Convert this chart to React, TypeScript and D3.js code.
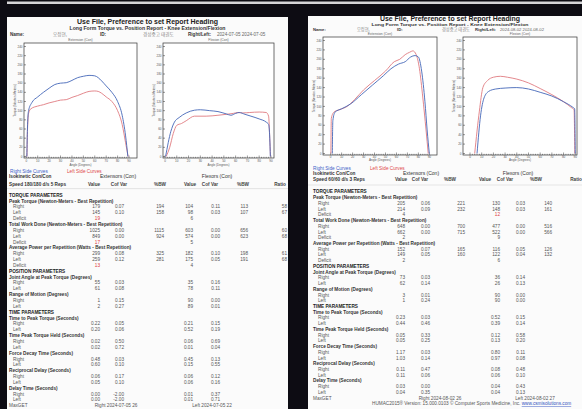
import React from 'react';
import * as d3 from 'd3';

// two HUMAC knee reports photographed side by side

const torqueTicks = [0, 20, 40, 60, 80, 100, 120, 140, 160, 180, 200, 220, 240];
const angleTicks = [0, 10, 20, 30, 40, 50, 60, 70, 80, 90];
const colHeads = ['Value', 'Cof Var', '%BW', 'Value', 'Cof Var', '%BW', 'Ratio'];

type Pt = [number, number];

// report 1 (2024-07-05, 180/180 d/s)
const r1ExtRight: Pt[] = [[0.5, 0], [1, 60], [2, 100], [5, 118], [10, 130], [15, 140], [20, 149], [25, 157], [30, 160], [35, 161], [40, 166], [45, 172], [50, 175], [55, 177], [60, 176], [63, 172], [66, 165], [70, 154], [75, 140], [80, 120], [84, 90], [87, 45], [89, 0]];
const r1ExtLeft: Pt[] = [[0.6, 0], [1.1, 60], [2.1, 95], [4, 104], [10, 110], [15, 113], [20, 117], [25, 120], [30, 123], [35, 124], [40, 129], [45, 133], [50, 138], [55, 142], [60, 143], [63, 142], [66, 138], [70, 130], [75, 120], [80, 100], [84, 70], [87, 30], [89.2, 0]];
const r1FlexRight: Pt[] = [[0.5, 0], [5, 55], [8, 75], [12, 85], [18, 95], [25, 101], [30, 102], [38, 100], [45, 98], [52, 93], [56, 90], [60, 94], [63, 96], [68, 92], [73, 88], [80, 82], [86, 75], [88, 70], [89, 40], [89.5, 0]];
const r1FlexLeft: Pt[] = [[1, 0], [4, 20], [7, 50], [10, 68], [14, 72], [18, 78], [25, 88], [35, 88], [45, 90], [52, 92], [58, 94], [62, 96], [66, 95], [72, 96], [80, 97], [86, 96], [88, 88], [89, 40], [89.6, 0]];

// report 2 (2024-08-02, 60/60 d/s)
const r2ExtRight: Pt[] = [[1.5, 0], [2, 70], [4, 88], [10, 95], [18, 105], [28, 125], [38, 145], [48, 165], [55, 180], [62, 190], [68, 195], [73, 205], [77, 208], [80, 205], [83, 175], [86, 110], [88, 50], [90, 0]];
const r2ExtLeft: Pt[] = [[0.2, 0], [0.6, 75], [3, 88], [8, 93], [15, 100], [22, 115], [30, 135], [40, 155], [50, 175], [58, 195], [63, 200], [68, 210], [72, 215], [75, 218], [78, 210], [81, 180], [84, 120], [87, 50], [89, 0]];
const r2FlexRight: Pt[] = [[6, 0], [9, 80], [12, 118], [16, 132], [22, 137], [30, 139], [40, 140], [50, 137], [60, 130], [70, 122], [80, 110], [88, 98], [89.5, 95], [90, 0]];
const r2FlexLeft: Pt[] = [[4, 0], [8, 90], [11, 140], [15, 155], [20, 162], [26, 164], [32, 162], [40, 158], [50, 150], [60, 138], [70, 125], [80, 110], [87, 97], [89, 93], [89.6, 0]];

// table rows: kind, label, ext value, ext cof, ext %bw, flex value, flex cof, flex %bw, ratio
const r1Rows: string[][] = [
  ['H', 'TORQUE PARAMETERS'],
  ['C', 'Peak Torque (Newton-Meters - Best Repetition)'],
  ['R', 'Right', '179', '0.07', '194', '104', '0.11', '113', '58'],
  ['R', 'Left', '145', '0.10', '158', '98', '0.03', '107', '67'],
  ['D', 'Deficit', '19', '', '', '6'],
  ['C', 'Total Work Done (Newton-Meters - Best Repetition)'],
  ['R', 'Right', '1025', '0.00', '1115', '603', '0.00', '656', '60'],
  ['R', 'Left', '849', '0.00', '924', '574', '0.00', '623', '68'],
  ['D', 'Deficit', '17', '', '', '5'],
  ['C', 'Average Power per Repetition (Watts - Best Repetition)'],
  ['R', 'Right', '299', '0.08', '325', '182', '0.10', '198', '61'],
  ['R', 'Left', '259', '0.12', '281', '175', '0.05', '191', '68'],
  ['D', 'Deficit', '13', '', '', '4'],
  ['H', 'POSITION PARAMETERS'],
  ['C', 'Joint Angle at Peak Torque (Degrees)'],
  ['R', 'Right', '55', '0.03', '', '35', '0.16'],
  ['R', 'Left', '61', '0.08', '', '78', '0.11'],
  ['C', 'Range of Motion (Degrees)'],
  ['R', 'Right', '1', '0.15', '', '90', '0.00'],
  ['R', 'Left', '2', '0.27', '', '89', '0.01'],
  ['H', 'TIME PARAMETERS'],
  ['C', 'Time to Peak Torque (Seconds)'],
  ['R', 'Right', '0.22', '0.05', '', '0.21', '0.15'],
  ['R', 'Left', '0.20', '0.06', '', '0.52', '0.19'],
  ['C', 'Time Peak Torque Held (Seconds)'],
  ['R', 'Right', '0.02', '0.50', '', '0.06', '0.69'],
  ['R', 'Left', '0.02', '0.72', '', '0.01', '0.04'],
  ['C', 'Force Decay Time (Seconds)'],
  ['R', 'Right', '0.48', '0.03', '', '0.45', '0.13'],
  ['R', 'Left', '0.60', '0.10', '', '0.15', '0.55'],
  ['C', 'Reciprocal Delay (Seconds)'],
  ['R', 'Right', '0.06', '0.17', '', '0.06', '0.12'],
  ['R', 'Left', '0.05', '0.10', '', '0.06', '0.16'],
  ['C', 'Delay Time (Seconds)'],
  ['R', 'Right', '0.00', '-2.00', '', '0.01', '0.37'],
  ['R', 'Left', '0.00', '-2.00', '', '0.01', '0.71'],
];

const r2Rows: string[][] = [
  ['H', 'TORQUE PARAMETERS'],
  ['C', 'Peak Torque (Newton-Meters - Best Repetition)'],
  ['R', 'Right', '205', '0.06', '221', '130', '0.03', '140'],
  ['R', 'Left', '214', '0.09', '232', '148', '0.03', '161'],
  ['D', 'Deficit', '4', '', '', '12'],
  ['C', 'Total Work Done (Newton-Meters - Best Repetition)'],
  ['R', 'Right', '648', '0.00', '700', '477', '0.00', '516'],
  ['R', 'Left', '662', '0.00', '715', '522', '0.00', '566'],
  ['D', 'Deficit', '2', '', '', '9'],
  ['C', 'Average Power per Repetition (Watts - Best Repetition)'],
  ['R', 'Right', '152', '0.07', '165', '116', '0.05', '126'],
  ['R', 'Left', '149', '0.05', '160', '122', '0.04', '132'],
  ['D', 'Deficit', '2', '', '', '6'],
  ['H', 'POSITION PARAMETERS'],
  ['C', 'Joint Angle at Peak Torque (Degrees)'],
  ['R', 'Right', '73', '0.03', '', '36', '0.14'],
  ['R', 'Left', '62', '0.14', '', '26', '0.13'],
  ['C', 'Range of Motion (Degrees)'],
  ['R', 'Right', '3', '0.01', '', '90', '0.00'],
  ['R', 'Left', '1', '0.24', '', '90', '0.00'],
  ['H', 'TIME PARAMETERS'],
  ['C', 'Time to Peak Torque (Seconds)'],
  ['R', 'Right', '0.23', '0.03', '', '0.52', '0.15'],
  ['R', 'Left', '0.44', '0.46', '', '0.39', '0.14'],
  ['C', 'Time Peak Torque Held (Seconds)'],
  ['R', 'Right', '0.05', '0.33', '', '0.12', '0.58'],
  ['R', 'Left', '0.05', '0.25', '', '0.13', '0.20'],
  ['C', 'Force Decay Time (Seconds)'],
  ['R', 'Right', '1.17', '0.03', '', '0.80', '0.11'],
  ['R', 'Left', '1.03', '0.14', '', '0.97', '0.08'],
  ['C', 'Reciprocal Delay (Seconds)'],
  ['R', 'Right', '0.11', '0.47', '', '0.08', '0.48'],
  ['R', 'Left', '0.11', '0.06', '', '0.06', '0.10'],
  ['C', 'Delay Time (Seconds)'],
  ['R', 'Right', '0.03', '0.00', '', '0.04', '0.43'],
  ['R', 'Left', '0.04', '0.35', '', '0.04', '0.13'],
];

const r1Head = ['오정현,', '경성중고 태권도', '2024-07-05 2024-07-05', 'Speed 180/180 d/s 5 Reps', 'Right 2024-07-05 26', 'Left 2024-07-05 22'];
const r2Head = ['오정현,', '경성중고 태권도', '2024-08-02 2024-08-02', 'Speed 60/60 d/s 3 Reps', 'Right 2024-08-02 26', 'Left 2024-08-02 27'];

const FONT = '"Liberation Sans", Arial, sans-serif';
const KR = '"Noto Sans CJK KR", sans-serif';
const BLUE = '#4466b8';
const RED = '#e07a80';

type Box = [number, number, number, number];

interface Layout {
  px: number; py: number; pw: number;
  cx: number; titleW: number; subW: number; subFs: number; nameFs: number;
  titleY: number; subY: number; nameY: number; nameX: number[];
  ext: Box; flex: Box; extDom: Pt; flexDom: Pt;
  chartTitleY: number; xLabY: number; xTitleY: number;
  legendY: number; legendX: Pt; isoY: number; speedY: number; ruleY: number;
  groupX: Pt; headX: number[];
  rowY: number; rowH: number; labX: number; indX: number; colX: number[];
  footX: Pt; humac: boolean;
}

const L1: Layout = {
  px: 7, py: 17, pw: 281,
  cx: 147.5, titleW: 141, subW: 156, subFs: 4.9, nameFs: 4.6,
  titleY: 24.2, subY: 30.2, nameY: 36.2, nameX: [10, 53, 100, 143, 188, 217],
  ext: [24, 43, 113, 115], flex: [163, 43, 111, 115], extDom: [-2, 97], flexDom: [-1.7, 92.6],
  chartTitleY: 40.6, xLabY: 162.3, xTitleY: 166.3,
  legendY: 173.4, legendX: [10, 67], isoY: 178.4, speedY: 185.6, ruleY: 188.6,
  groupX: [118, 217], headX: [94, 119, 160, 190, 210, 243, 280],
  rowY: 196.7, rowH: 5.85, labX: 9, indX: 13, colX: [100, 124, 164, 193, 220, 248, 287],
  footX: [116, 212], humac: false,
};

const L2: Layout = {
  px: 308, py: 16, pw: 290,
  cx: 450, titleW: 140, subW: 157, subFs: 4.3, nameFs: 4.2,
  titleY: 21.4, subY: 26.4, nameY: 31.2, nameX: [313, 357, 397, 442, 475, 500],
  ext: [323, 37, 114, 118], flex: [463, 37, 114, 118], extDom: [-7, 97], flexDom: [-6, 91.5],
  chartTitleY: 34.6, xLabY: 158.1, xTitleY: 161.4,
  legendY: 169.8, legendX: [313, 370], isoY: 174.8, speedY: 180.8, ruleY: 185,
  groupX: [421, 518], headX: [401, 420, 450, 485, 505, 536, 576],
  rowY: 193.4, rowH: 5.73, labX: 313, indX: 318, colX: [405, 430, 465, 500, 525, 552, 592],
  footX: [440, 535], humac: true,
};

function Chart({ box, dom, title, right, left, lay }: { box: Box; dom: Pt; title: string; right: Pt[]; left: Pt[]; lay: Layout }) {
  const [x, y, w, h] = box;
  const xs = d3.scaleLinear().domain(dom).range([x, x + w]);
  const ys = d3.scaleLinear().domain([0, 240]).range([y + h - 1.5, y + 3.5]);
  const line = d3.line<Pt>().x(d => xs(d[0])).y(d => ys(d[1])).curve(d3.curveMonotoneX);
  const minor = d3.range(0, 91, 2);
  return (
    <g>
      <text x={x + w / 2} y={lay.chartTitleY} fontSize={3.4} textAnchor="middle" fill="#666">{title}</text>
      <rect x={x} y={y} width={w} height={h} fill="#fff" stroke="#333" strokeWidth={0.7} />
      {torqueTicks.map(t => (
        <g key={t}>
          <line x1={x} x2={x + 2} y1={ys(t)} y2={ys(t)} stroke="#333" strokeWidth={0.5} />
          <text x={x - 1.5} y={ys(t) + 1.1} fontSize={3} textAnchor="end" fill="#555">{t}</text>
        </g>
      ))}
      {minor.map(t => (
        <line key={t} x1={xs(t)} x2={xs(t)} y1={y + h} y2={y + h - (t % 10 === 0 ? 2.5 : 1.2)} stroke="#333" strokeWidth={0.5} />
      ))}
      {angleTicks.map(t => (
        <text key={t} x={xs(t)} y={lay.xLabY} fontSize={3} textAnchor="middle" fill="#555">{t}</text>
      ))}
      <text x={x + w / 2} y={lay.xTitleY} fontSize={3} textAnchor="middle" fill="#555">Angle (Degrees)</text>
      <text transform={`translate(${x - 8.5},${y + h / 2}) rotate(-90)`} fontSize={3} textAnchor="middle" fill="#555">Torque (Newton-Meters)</text>
      <path d={line(left) ?? ''} fill="none" stroke={RED} strokeWidth={0.9} />
      <path d={line(right) ?? ''} fill="none" stroke={BLUE} strokeWidth={0.9} />
    </g>
  );
}

function Report({ lay, head, rows, ext, flex }: { lay: Layout; head: string[]; rows: string[][]; ext: [Pt[], Pt[]]; flex: [Pt[], Pt[]] }) {
  const fs = 4.7;
  const rowCount = rows.length;
  return (
    <g fontFamily={FONT}>
      <rect x={lay.px} y={lay.py} width={lay.pw} height={420} fill="#fbfbfb" />
      <text x={lay.cx} y={lay.titleY} fontSize={7.4} fontWeight="bold" textAnchor="middle" fill="#222" textLength={lay.titleW} lengthAdjust="spacingAndGlyphs">Use File, Preference to set Report Heading</text>
      <text x={lay.cx} y={lay.subY} fontSize={lay.subFs} fontWeight="bold" textAnchor="middle" fill="#333" textLength={lay.subW} lengthAdjust="spacingAndGlyphs">Long Form Torque vs. Position Report - Knee Extension/Flexion</text>
      <g fontSize={lay.nameFs} fill="#333">
        <text x={lay.nameX[0]} y={lay.nameY} fontWeight="bold">Name:</text>
        <text x={lay.nameX[1]} y={lay.nameY} fontFamily={KR} fill="#888">{head[0]}</text>
        <text x={lay.nameX[2]} y={lay.nameY} fontWeight="bold">ID:</text>
        <text x={lay.nameX[3]} y={lay.nameY} fontFamily={KR} fill="#888">{head[1]}</text>
        <text x={lay.nameX[4]} y={lay.nameY} fontWeight="bold">Right/Left:</text>
        <text x={lay.nameX[5]} y={lay.nameY} fill="#666">{head[2]}</text>
      </g>
      <Chart box={lay.ext} dom={lay.extDom} title="Extension (Con)" right={ext[0]} left={ext[1]} lay={lay} />
      <Chart box={lay.flex} dom={lay.flexDom} title="Flexion (Con)" right={flex[0]} left={flex[1]} lay={lay} />
      <text x={lay.legendX[0]} y={lay.legendY} fontSize={fs} fill="#3a62c8">Right Side Curves</text>
      <text x={lay.legendX[1]} y={lay.legendY} fontSize={fs} fill="#e04848">Left Side Curves</text>
      <text x={lay.labX} y={lay.isoY} fontSize={fs} fontWeight="bold" fill="#333">Isokinetic Con/Con</text>
      <text x={lay.groupX[0]} y={lay.isoY} fontSize={fs + 0.3} textAnchor="middle" fill="#333">Extensors (Con)</text>
      <text x={lay.groupX[1]} y={lay.isoY} fontSize={fs + 0.3} textAnchor="middle" fill="#333">Flexors (Con)</text>
      <text x={lay.labX} y={lay.speedY} fontSize={fs} fontWeight="bold" fill="#333">{head[3]}</text>
      {colHeads.map((c, i) => (
        <text key={i} x={lay.headX[i]} y={lay.speedY} fontSize={fs} fontWeight="bold" textAnchor="middle" fill="#444">{c}</text>
      ))}
      <line x1={lay.px} x2={lay.px + lay.pw} y1={lay.ruleY} y2={lay.ruleY} stroke="#ccc" strokeWidth={0.5} />
      {rows.map((r, i) => {
        const y = lay.rowY + i * lay.rowH;
        if (r[0] === 'H' || r[0] === 'C') {
          return <text key={i} x={lay.labX} y={y} fontSize={fs} fontWeight="bold" fill={r[0] === 'H' ? '#222' : '#333'}>{r[1]}</text>;
        }
        return (
          <g key={i} fontSize={fs} fill="#555">
            <text x={lay.indX} y={y}>{r[1]}</text>
            {r.slice(2).map((v, j) => (
              <text key={j} x={lay.colX[j]} y={y} textAnchor="end"
                fill={r[0] === 'D' && +v >= 10 ? '#e03a3a' : '#555'}>{v}</text>
            ))}
          </g>
        );
      })}
      <g fontSize={fs} fill="#555">
        <text x={lay.labX} y={lay.rowY + rowCount * lay.rowH}>MaxGET</text>
        <text x={lay.footX[0]} y={lay.rowY + rowCount * lay.rowH} textAnchor="middle">{head[4]}</text>
        <text x={lay.footX[1]} y={lay.rowY + rowCount * lay.rowH} textAnchor="middle">{head[5]}</text>
        {lay.humac && (
          <text x={372} y={lay.rowY + (rowCount + 1) * lay.rowH} fill="#555">
            HUMAC2015® Version: 15.000.0103 © Computer Sports Medicine, Inc.{' '}
            <tspan fill="#3050c0" textDecoration="underline">www.csmisolutions.com</tspan>
          </text>
        )}
      </g>
    </g>
  );
}

export default function App() {
  return (
    <svg width={582} height={409} style={{ position: 'fixed', left: 0, top: 0, background: '#0d0c13' }}>
      <rect x={0} y={0} width={582} height={409} fill="#0d0c13" />
      <rect x={7} y={1.5} width={575} height={2.5} fill="#d6d6d8" />
      <Report lay={L1} head={r1Head} rows={r1Rows} ext={[r1ExtRight, r1ExtLeft]} flex={[r1FlexRight, r1FlexLeft]} />
      <Report lay={L2} head={r2Head} rows={r2Rows} ext={[r2ExtRight, r2ExtLeft]} flex={[r2FlexRight, r2FlexLeft]} />
    </svg>
  );
}
